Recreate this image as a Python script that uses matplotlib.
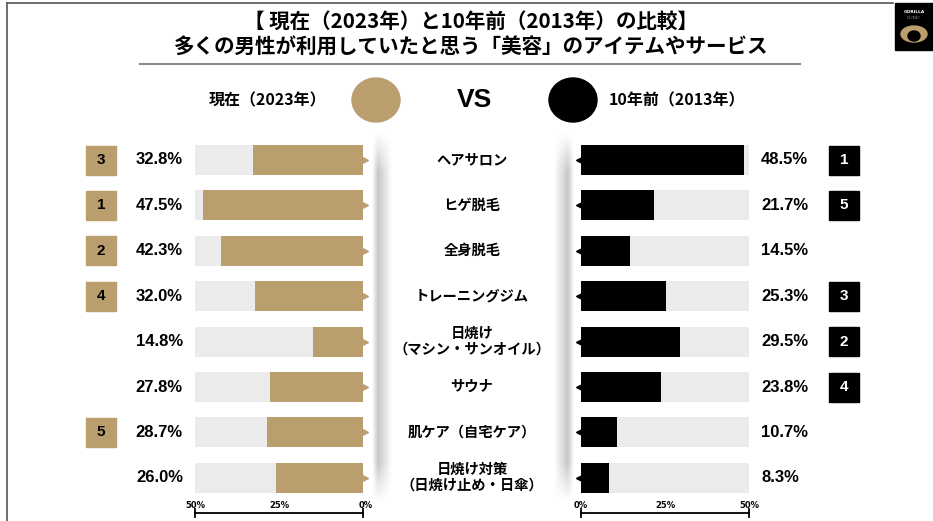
import numpy as np
import matplotlib
matplotlib.use("Agg")
import matplotlib.pyplot as plt
from matplotlib.patches import Rectangle, Ellipse

plt.rcParams["font.family"] = ["Noto Sans CJK JP", "DejaVu Sans"]

# data
items = ["ヘアサロン", "ヒゲ脱毛", "全身脱毛", "トレーニングジム",
         "日焼け\n（マシン・サンオイル）", "サウナ", "肌ケア（自宅ケア）",
         "日焼け対策\n（日焼け止め・日傘）"]
now_2023 = [32.8, 47.5, 42.3, 32.0, 14.8, 27.8, 28.7, 26.0]
past_2013 = [48.5, 21.7, 14.5, 25.3, 29.5, 23.8, 10.7, 8.3]
rank_2023 = [3, 1, 2, 4, None, None, 5, None]
rank_2013 = [1, 5, None, 3, 2, 4, None, None]
ticks_pct = [0, 25, 50]

GOLD = "#BA9E6E"
GRAY = "#EBEBEB"
W, H = 933, 521

fig = plt.figure(figsize=(W / 100, H / 100), dpi=100)

# overlay in pixel coordinates
ov = fig.add_axes([0, 0, 1, 1])
ov.axis("off")

# frame lines
ov.plot([7, 7], [3, H], color="#555555", lw=1.2)
ov.plot([7, 893], [3, 3], color="#555555", lw=1.2)
ov.plot([140, 800], [64, 64], color="#888888", lw=1.5)

# title
ov.text(471, 21, "【 現在（2023年）と10年前（2013年）の比較】", ha="center", va="center",
        fontsize=14.8, fontweight="bold")
ov.text(471, 47, "多くの男性が利用していたと思う「美容」のアイテムやサービス", ha="center",
        va="center", fontsize=14.8, fontweight="bold")

# logo
ov.add_patch(Rectangle((895, 3), 38, 47, color="black"))
ov.text(914, 12, "GORILLA", ha="center", va="center", fontsize=3.2, color="white",
        fontweight="bold", family="DejaVu Sans")
ov.text(914, 18, "CLINIC", ha="center", va="center", fontsize=3.2, color="#888888",
        family="DejaVu Sans")
ov.add_patch(Ellipse((914, 34), 26, 16, color=GOLD))
ov.add_patch(Ellipse((914, 36), 12, 10, color="black"))

# header
ov.text(268, 100, "現在（2023年）", ha="center", va="center", fontsize=11.5, fontweight="bold")
ov.add_patch(Ellipse((376, 100), 48, 44, color=GOLD))
ov.text(474, 100, "VS", ha="center", va="center", fontsize=19, fontweight="bold",
        family="Liberation Sans")
ov.add_patch(Ellipse((573, 100), 48, 44, color="black"))
ov.text(677, 100, "10年前（2013年）", ha="center", va="center", fontsize=11.5, fontweight="bold")

# soft vertical shadows next to the centre column
def shadow(x0, x1, peak, y0, y1):
    xs = np.linspace(x0, x1, 60)
    ys = np.linspace(y0, y1, 200)
    ax_prof = np.clip(1 - np.abs(xs - peak) / np.where(xs < peak, peak - x0, x1 - peak), 0, 1)
    ay_prof = np.clip(np.minimum(ys - y0, y1 - ys) / 40, 0, 1)
    img = np.zeros((len(ys), len(xs), 4))
    img[..., :3] = 0.55
    img[..., 3] = 0.5 * np.outer(ay_prof, ax_prof)
    ov.imshow(img, extent=[x0, x1, y1, y0], aspect="auto", interpolation="bilinear", zorder=0)

shadow(372, 392, 378, 132, 502)
shadow(554, 574, 568, 132, 502)

row_y = 160 + 45.4 * np.arange(len(items))

for i, name in enumerate(items):
    y = row_y[i]
    ov.text(472, y, name, ha="center", va="center", fontsize=10.3, fontweight="bold",
            linespacing=1.2)
    ov.text(183, y, f"{now_2023[i]:.1f}%", ha="right", va="center", fontsize=12,
            fontweight="bold", family="Liberation Sans")
    ov.text(761, y, f"{past_2013[i]:.1f}%", ha="left", va="center", fontsize=12,
            fontweight="bold", family="Liberation Sans")
    if rank_2023[i] is not None:
        ov.add_patch(Rectangle((86, y - 14.5), 30, 29, color=GOLD))
        ov.text(101, y, str(rank_2023[i]), ha="center", va="center", fontsize=11,
                fontweight="bold", family="Liberation Sans")
    if rank_2013[i] is not None:
        ov.add_patch(Rectangle((829, y - 14.5), 30, 29, color="black"))
        ov.text(844, y, str(rank_2013[i]), ha="center", va="center", fontsize=11,
                fontweight="bold", color="white", family="Liberation Sans")

# bottom scales
def scale(x_zero, x_fifty):
    ov.plot([x_zero, x_fifty], [513, 513], color="black", lw=1.3)
    for xe in (x_zero, x_fifty):
        ov.plot([xe, xe], [509, 517], color="black", lw=1.3)
    for t in ticks_pct:
        xt = x_zero + (x_fifty - x_zero) * t / 50
        ov.text(xt + (3 if t == 0 and x_fifty < x_zero else 0), 506, f"{t}%", ha="center",
                va="center", fontsize=6, fontweight="bold", family="DejaVu Sans")

scale(363, 195)
scale(581, 749)

ov.set_xlim(0, W)
ov.set_ylim(H, 0)

# bar axes
y_bottom = H - (row_y[-1] + 22.7)
ax_h = (row_y[-1] - row_y[0]) + 45.4
pos = np.arange(len(items))

axl = fig.add_axes([195 / W, y_bottom / H, 168 / W, ax_h / H])
axr = fig.add_axes([581 / W, y_bottom / H, 168 / W, ax_h / H])

for ax, vals, col, mk in ((axl, now_2023, GOLD, ">"), (axr, past_2013, "black", "<")):
    ax.barh(pos, [50] * len(pos), height=0.66, color=GRAY)
    ax.barh(pos, vals, height=0.66, color=col)
    ax.plot([0] * len(pos), pos, ls="none", marker=mk, ms=7, color=col,
            clip_on=False, zorder=1)
    ax.set_ylim(len(pos) - 0.5, -0.5)
    ax.axis("off")
    ax.patch.set_alpha(0)

axl.set_xlim(50, 0)
axr.set_xlim(0, 50)

fig.savefig("out.png", dpi=100)
